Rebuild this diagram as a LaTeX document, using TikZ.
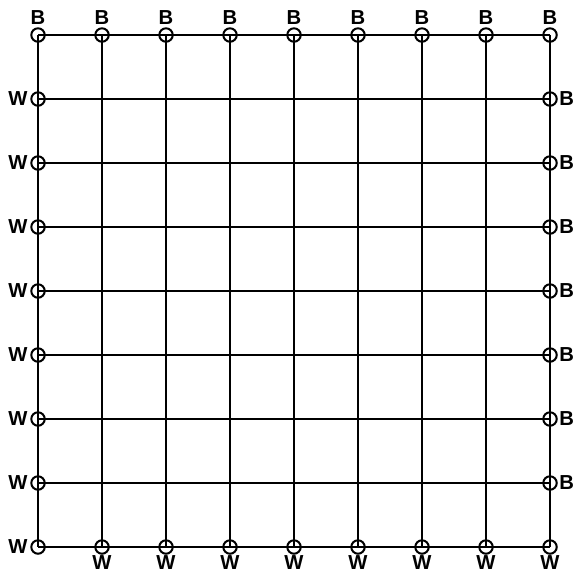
\documentclass[tikz,border=0pt]{standalone}
\usepackage{fontspec}
\setsansfont{Liberation Sans}
\tikzset{
  ring/.style={draw,circle,line width=0.9pt,minimum size=0.21cm,inner sep=0},
  lbl/.style={font=\sffamily\bfseries\fontsize{9}{10}\selectfont,inner sep=0.5pt},
  wire/.style={line width=1.1pt}
}

\begin{document}
\begin{tikzpicture}[label distance=0.5pt]
  \useasboundingbox (-0.594,0.547) rectangle (8.375,-8.4375);
  % ---- top row, B over every end ----
  \foreach \i in {0,...,8}
    \node[ring,label={[lbl]above:B}] (t\i) at (\i,0) {};
  % ---- bottom row, W under every end ----
  \node[ring,label={[lbl]left:W}] (b0) at (0,-8) {};
  \foreach \i in {1,...,8}
    \node[ring,label={[lbl,label distance=-0.5pt]below:W}] (b\i) at (\i,-8) {};
  % ---- side columns ----
  \foreach \j in {1,...,7} {
    \node[ring,label={[lbl]left:W}] (l\j) at (0,-\j) {};
    \node[ring,label={[lbl,label distance=0pt]right:B}] (r\j) at (8,-\j) {};
  }
  % ---- the grid ----
  \foreach \i in {0,...,8}
    \draw[wire] (t\i.center) -- (b\i.center);
  \draw[wire] (t0.center) -- (t8.center);
  \draw[wire] (b0.center) -- (b8.center);
  \foreach \j in {1,...,7}
    \draw[wire] (l\j.center) -- (r\j.center);
\end{tikzpicture}
\end{document}
